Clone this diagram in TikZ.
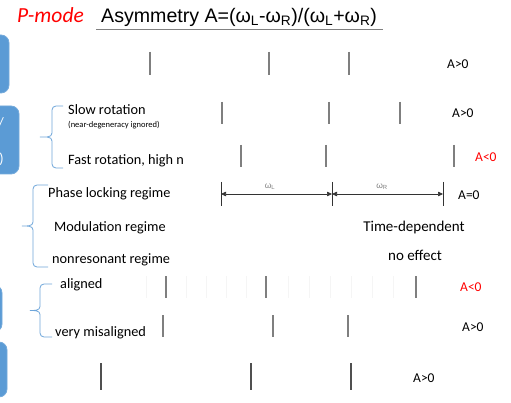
\documentclass[tikz,border=0pt]{standalone}
\usepackage{fontspec}
\setmainfont{Carlito}
\newfontfamily\arialf{Liberation Sans}
\usetikzlibrary{arrows.meta}
\definecolor{boxblue}{HTML}{5B9BD5}
\definecolor{braceblue}{HTML}{6FA6DA}
\definecolor{tickgray}{HTML}{7F7F7F}
\definecolor{tickdark}{HTML}{505050}
\definecolor{redlbl}{HTML}{FF0000}
\tikzset{
  modebox/.style={fill=boxblue, draw=boxblue!85!white, line width=0.8pt, rounded corners=8pt},
  brace/.style={draw=braceblue, line width=0.8pt},
  tick/.style={draw=tickgray, line width=1.7pt},
  darktick/.style={draw=tickdark, line width=1.7pt},
  faint/.style={draw=gray!8, line width=0.6pt},
  lbl/.style={inner sep=0pt, anchor=base west, font=\fontsize{14.3}{16}\selectfont},
  small/.style={inner sep=0pt, anchor=base west, font=\fontsize{8.5}{10}\selectfont},
  asym/.style={inner sep=0pt, anchor=west, font=\fontsize{13.5}{15}\selectfont},
  dimlbl/.style={inner sep=0pt, font=\arialf\fontsize{8.5}{10}\selectfont, text=gray},
  dim/.style={draw=black!80, line width=0.6pt, {Triangle[length=5pt,width=4.5pt]}-{Triangle[length=5pt,width=4.5pt]}},
  boxtxt/.style={inner sep=0pt, anchor=east, text=white, font=\fontsize{14.3}{16}\selectfont}
}
\newcommand{\bracepath}[5]{% tip x, spine x, end x, top y, bottom y ; tip at middle
  \pgfmathsetmacro{\midy}{(#4+#5)/2}
  \draw[brace] (#3,#4) -- ({#2+4},#4) to[out=180,in=90] (#2,{#4+4})
    -- (#2,{\midy-4}) to[out=-90,in=0] (#1,\midy)
    (#1,\midy) to[out=0,in=90] (#2,{\midy+4})
    -- (#2,{#5-4}) to[out=-90,in=180] ({#2+4},#5) -- (#3,#5);
}
\begin{document}
\begin{tikzpicture}[x=1pt,y=-1pt]
\clip (0,0) rectangle (511,403);
\fill[white] (0,0) rectangle (511,403);

% header
\node[inner sep=0pt, anchor=base west, text=redlbl, font=\itshape\fontsize{21.5}{23}\selectfont] (pmode) at (17,23) {P-mode};
\node[inner sep=0pt, anchor=base west, font=\arialf\fontsize{19.6}{21}\selectfont] (title) at (101,22.5)
  {Asymmetry A=(ω\textsubscript{L}-ω\textsubscript{R})/(ω\textsubscript{L}+ω\textsubscript{R})};
\draw[gray, line width=0.8pt] (96,29.5) -- (383,29.5);

% mode boxes cut by the left edge
\draw[modebox] (-20,35) rectangle (9,93);
\draw[modebox] (-20,106) rectangle (19,174);
\node[boxtxt] (b2a) at (4,123) {/};
\node[boxtxt] (b2b) at (4,159) {)};
\draw[modebox] (-20,285) rectangle (2,332);
\draw[modebox] (-20,342) rectangle (7,397);

% braces
\bracepath{40}{52}{63}{106}{168}
\bracepath{22}{33}{48}{185}{267}
\bracepath{30}{40}{52}{284}{337}

% row 1
\draw[tick] (150,52) -- (150,75);
\draw[tick] (269,52) -- (269,75);
\draw[tick] (349,52) -- (349,75);
\node[asym] (a1) at (447,64) {A>0};

% rotation rows
\node[lbl] (slow) at (68,115) {Slow rotation};
\node[small] (neardeg) at (68,128) {(near-degeneracy ignored)};
\draw[tick] (222,102) -- (222,124);
\draw[tick] (329,102) -- (329,124);
\draw[tick] (400,102) -- (400,124);
\node[asym] (a2) at (452,113) {A>0};

\node[lbl] (fast) at (68,165) {Fast rotation, high n};
\draw[tick] (241,145) -- (241,167);
\draw[tick] (326,145) -- (326,167);
\draw[tick] (454,145) -- (454,167);
\node[asym, text=redlbl] (a3) at (475,157) {A<0};

% resonance regimes
\node[lbl] (phase) at (48,198) {Phase locking regime};
\node[lbl] (modul) at (54,232) {Modulation regime};
\node[lbl] (nonres) at (52,263) {nonresonant regime};

\coordinate (d1) at (221,194);
\coordinate (d2) at (332,194);
\coordinate (d3) at (443,194);
\draw[black!80, line width=0.8pt] (221,182) -- (221,206);
\draw[black!80, line width=0.8pt] (332,182) -- (332,206);
\draw[black!80, line width=0.8pt] (443,182) -- (443,206);
\draw[dim] (d1) -- (d2);
\draw[dim] (d2) -- (d3);
\node[dimlbl] (wl) at (270,187) {ω\textsubscript{L}};
\node[dimlbl] (wr) at (382,187) {ω\textsubscript{R}};
\node[asym] (a4) at (458,195) {A=0};
\node[lbl, anchor=base, font=\fontsize{15}{17}\selectfont] (timedep) at (414,232) {Time-dependent};
\node[lbl, anchor=base, font=\fontsize{15}{17}\selectfont] (noeff) at (415,261) {no effect};

% alignment rows
\foreach \x in {146,186,206,226,246,288,309,330,351,372,393}
  \draw[faint] (\x,276) -- (\x,298);
\node[lbl] (aligned) at (60,288) {aligned};
\draw[tick] (166,276) -- (166,298);
\draw[tick] (266,276) -- (266,298);
\draw[tick] (416,276) -- (416,298);
\node[asym, text=redlbl] (a5) at (460,287) {A<0};

\node[lbl] (misal) at (55,336) {very misaligned};
\draw[tick] (163,315) -- (163,337);
\draw[tick] (273,315) -- (273,337);
\draw[tick] (348,315) -- (348,337);
\node[asym] (a6) at (462,327) {A>0};

% last row
\draw[darktick] (101,363) -- (101,390);
\draw[darktick] (251,363) -- (251,390);
\draw[darktick] (351,363) -- (351,390);
\node[asym] (a7) at (413,378) {A>0};
\end{tikzpicture}
\end{document}
